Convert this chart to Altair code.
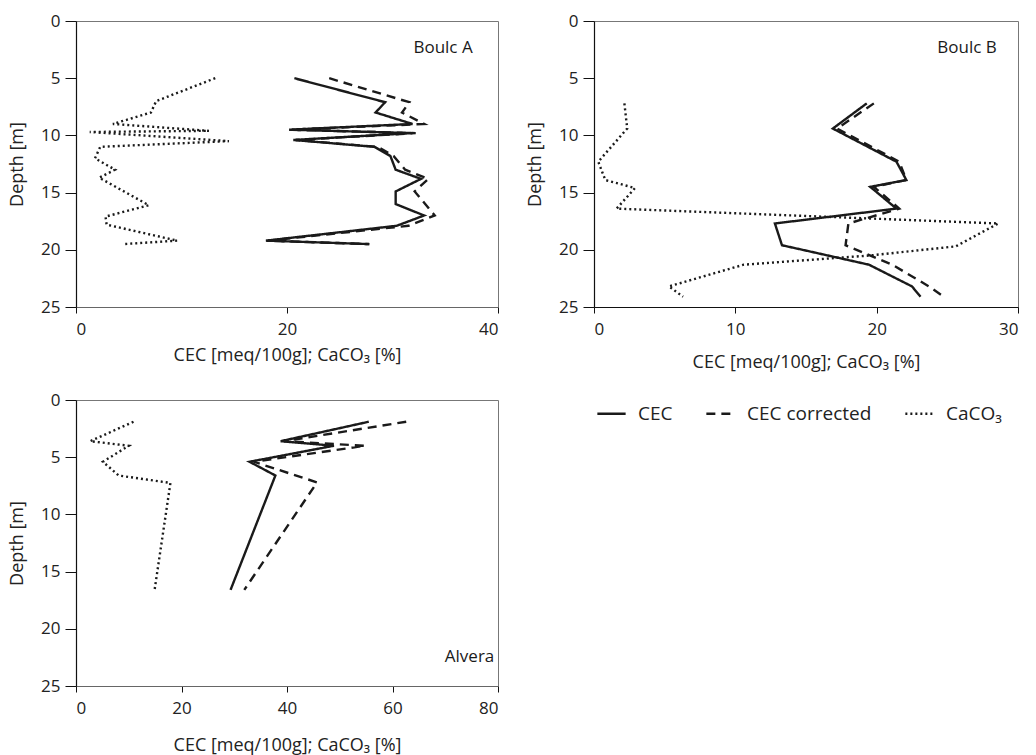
import altair as alt
import pandas as pd

SERIES = ["CEC", "CEC corrected", "CaCO₃"]
X_TITLE = "CEC [meq/100g]; CaCO₃ [%]"

# Boulc A
a_cec_depth = [5.0, 7.1, 8.0, 9.0, 9.5, 9.8, 10.4, 11.0, 11.8, 13.0, 13.8, 14.9, 16.0, 17.0, 17.9, 19.2, 19.5]
a_cec = [20.7, 29.3, 28.4, 31.9, 20.2, 31.9, 20.6, 28.3, 29.8, 30.3, 32.7, 30.3, 30.3, 33.0, 30.4, 18.0, 27.8]
a_cec_corr = [24.0, 31.6, 30.9, 33.0, 20.4, 32.2, 20.8, 28.6, 30.1, 31.2, 33.4, 32.1, 33.1, 34.0, 31.5, 18.2, 27.8]
a_caco3_depth = [5.0, 7.0, 8.0, 9.0, 9.6, 9.7, 10.5, 11.0, 12.0, 13.0, 13.7, 16.1, 17.1, 17.8, 19.2, 19.5]
a_caco3 = [13.2, 7.6, 7.1, 3.5, 12.6, 1.3, 14.5, 2.3, 1.8, 3.7, 2.2, 6.9, 2.8, 2.9, 9.6, 4.5]

# Boulc B
b_cec_depth = [7.2, 9.4, 12.3, 13.9, 14.5, 16.4, 17.7, 19.6, 21.3, 23.2, 24.1]
b_cec = [19.3, 16.9, 21.4, 22.1, 19.55, 21.4, 12.8, 13.3, 19.45, 22.5, 23.1]
b_cec_corr = [19.8, 17.2, 21.6, 22.1, 19.8, 21.6, 18.0, 17.8, 21.1, 23.7, 24.75]
b_caco3_depth = [7.2, 9.4, 12.3, 13.9, 14.6, 16.4, 17.7, 19.7, 20.5, 21.3, 23.2, 24.1]
b_caco3 = [2.15, 2.35, 0.3, 0.8, 2.9, 1.6, 28.6, 25.6, 19.5, 10.6, 5.3, 6.3]

# Alvera
c_cec_depth = [1.9, 3.6, 4.0, 5.4, 6.6, 16.6]
c_cec = [55.5, 38.8, 48.9, 32.9, 37.8, 29.3]
c_corr_depth = [1.9, 3.6, 4.0, 5.4, 7.2, 16.6]
c_cec_corr = [62.6, 39.4, 54.8, 33.7, 45.7, 31.9]
c_caco3_depth = [1.9, 3.6, 4.0, 5.4, 6.6, 7.25, 16.6]
c_caco3 = [10.9, 2.7, 10.0, 5.1, 8.1, 17.9, 14.9]


def profile_frame(parts):
    rows = []
    for name, depths, values in parts:
        for i, (d, v) in enumerate(zip(depths, values)):
            rows.append({"series": name, "depth": d, "value": v, "idx": i})
    return pd.DataFrame(rows)


def panel(df, x_max, x_ticks, label, label_x, label_y, width, height,
          x_domain_color, x_title_pad):
    x_scale = alt.Scale(domain=[0, x_max], nice=False, zero=False)
    y_scale = alt.Scale(domain=[0, 25], reverse=True, nice=False)
    lines = alt.Chart(df).mark_line(color="#1a1a1a", strokeWidth=2.4).encode(
        x=alt.X("value:Q", scale=x_scale,
                axis=alt.Axis(values=x_ticks, title=X_TITLE, domainColor=x_domain_color,
                              titlePadding=x_title_pad)),
        y=alt.Y("depth:Q", scale=y_scale,
                axis=alt.Axis(values=[0, 5, 10, 15, 20, 25], title="Depth [m]")),
        strokeDash=alt.StrokeDash(
            "series:N",
            scale=alt.Scale(domain=SERIES, range=[[1, 0], [9, 6], [2, 3]]),
            legend=alt.Legend(title=None),
        ),
        detail="series:N",
        order="idx:Q",
    )
    text = alt.Chart().mark_text(align="right", baseline="middle", fontSize=17,
                                 color="#1a1a1a").encode(
        x=alt.datum(label_x), y=alt.datum(label_y), text=alt.value(label)
    )
    return alt.layer(lines, text).properties(width=width, height=height)


df_a = profile_frame([("CEC", a_cec_depth, a_cec),
                      ("CEC corrected", a_cec_depth, a_cec_corr),
                      ("CaCO₃", a_caco3_depth, a_caco3)])
df_b = profile_frame([("CEC", b_cec_depth, b_cec),
                      ("CEC corrected", b_cec_depth, b_cec_corr),
                      ("CaCO₃", b_caco3_depth, b_caco3)])
df_c = profile_frame([("CEC", c_cec_depth, c_cec),
                      ("CEC corrected", c_corr_depth, c_cec_corr),
                      ("CaCO₃", c_caco3_depth, c_caco3)])

pa = panel(df_a, 40, [0, 20, 40], "Boulc A", 37.6, 2.4, 422, 286, "#666", 9)
pb = panel(df_b, 30, [0, 10, 20, 30], "Boulc B", 28.5, 2.4, 424, 286, "#111", 16)
pc = panel(df_c, 80, [0, 20, 40, 60, 80], "Alvera", 79.3, 22.5, 422, 286, "#666", 20)

chart = alt.concat(
    pa, pb, pc, columns=2, spacing={"row": 93, "column": 96}, bounds="flush"
).properties(
    padding={"left": 8, "top": 11, "right": 5, "bottom": 0}
).configure(
    font="Open Sans"
).configure_view(
    stroke="#777", strokeWidth=1
).configure_axis(
    grid=False,
    domainColor="#111",
    domainWidth=1.2,
    tickColor="#111",
    labelColor="#222",
    labelFontSize=17,
    labelFont="Open Sans",
    titleFont="Open Sans",
    titleFontSize=18,
    titleFontWeight="normal",
    titleColor="#222",
).configure_axisX(
    tickSize=6, labelPadding=8
).configure_axisY(
    tickSize=11, labelPadding=5, titlePadding=14
).configure_legend(
    orient="none",
    legendX=520,
    legendY=377,
    direction="horizontal",
    symbolType="stroke",
    symbolSize=800,
    symbolStrokeWidth=2.4,
    symbolStrokeColor="#1a1a1a",
    labelFontSize=19,
    labelFont="Open Sans",
    labelColor="#222",
    labelOffset=11,
    columnPadding=28,
)

chart.save("out.html", embed_options={"renderer": "svg", "actions": False})
